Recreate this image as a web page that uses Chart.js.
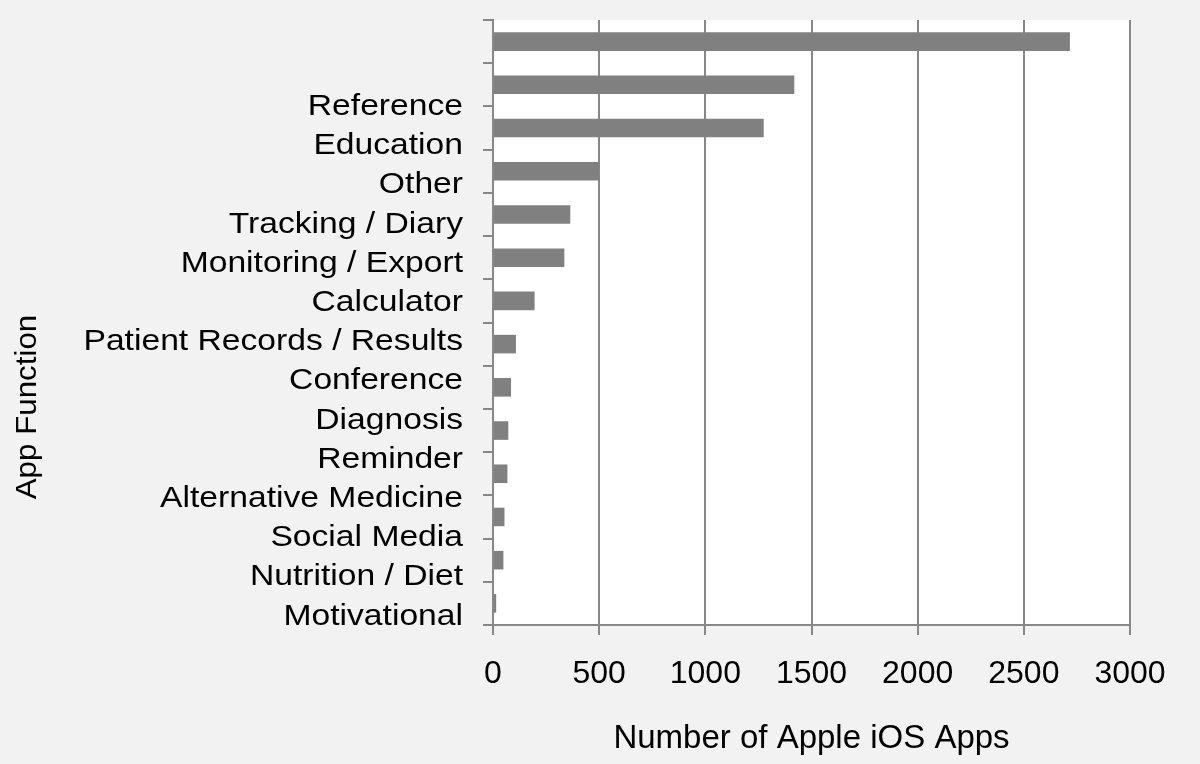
<!DOCTYPE html>
<html>
<head>
<meta charset="utf-8">
<script src="https://cdn.jsdelivr.net/npm/chart.js@4/dist/chart.umd.min.js"></script>
<style>
  html, body { margin: 0; padding: 0; background: #f2f2f2; }
  #wrap { width: 1200px; height: 764px; }
</style>
</head>
<body>
<div id="wrap"><canvas id="chart"></canvas></div>
<script>
// App functions, top to bottom
const categories = [
    'Reference', 'Education', 'Other', 'Tracking / Diary', 'Monitoring / Export',
    'Calculator', 'Patient Records / Results', 'Conference', 'Diagnosis', 'Reminder',
    'Alternative Medicine', 'Social Media', 'Nutrition / Diet', 'Motivational'
];
const appCounts = [2717, 1419, 1275, 500, 364, 336, 196, 108, 85, 72, 68, 54, 49, 15];
const xTicks = [0, 500, 1000, 1500, 2000, 2500, 3000];

const xTitle = 'Number of Apple iOS Apps';
const yTitle = 'App Function';

const GRAY = '#888888';
const FONT = '"Liberation Sans", Arial, sans-serif';

// white plot area on the gray page
const plotBg = {
    id: 'plotBg',
    beforeDraw(chart) {
        const { ctx, chartArea: a } = chart;
        ctx.save();
        ctx.fillStyle = '#ffffff';
        ctx.fillRect(a.left, a.top, a.right - a.left, a.bottom - a.top);
        ctx.restore();
    }
};

// category labels + y title, drawn a bit stretched like the original
const sideText = {
    id: 'sideText',
    afterDraw(chart) {
        const { ctx, chartArea: a } = chart;
        const labels = chart.data.labels;
        const first = a.top + 87, step = 39.2;
        ctx.save();
        ctx.fillStyle = '#000';
        ctx.font = '29px ' + FONT;
        ctx.textAlign = 'right';
        ctx.textBaseline = 'middle';
        labels.forEach((lab, i) => {
            ctx.save();
            ctx.translate(a.left - 30, first + i * step);
            ctx.scale(1.16, 1);
            ctx.fillText(lab, 0, 0);
            ctx.restore();
        });
        ctx.translate(28, 407);
        ctx.rotate(-Math.PI / 2);
        ctx.scale(1.08, 1);
        ctx.textAlign = 'center';
        ctx.fillText(yTitle, 0, 0);
        ctx.restore();
    }
};

new Chart(document.getElementById('chart'), {
    type: 'bar',
    data: {
        labels: categories,
        datasets: [{
            data: appCounts,
            backgroundColor: '#808080',
            borderWidth: 0,
            barPercentage: 0.43,
            categoryPercentage: 1
        }]
    },
    options: {
        indexAxis: 'y',
        responsive: true,
        maintainAspectRatio: false,
        animation: false,
        layout: { padding: { top: 20, right: 70, bottom: 5, left: 0 } },
        plugins: {
            legend: { display: false },
            tooltip: { enabled: false }
        },
        scales: {
            x: {
                type: 'linear',
                min: 0,
                max: 3000,
                afterBuildTicks(scale) {
                    scale.ticks = xTicks.map(v => ({ value: v }));
                },
                grid: { color: GRAY, lineWidth: 2, tickLength: 10, tickColor: GRAY },
                border: { color: GRAY, width: 2 },
                ticks: {
                    color: '#000',
                    font: { family: FONT, size: 32 },
                    padding: 20,
                    callback: v => String(v)
                },
                title: {
                    display: true,
                    text: xTitle,
                    color: '#000',
                    font: { family: FONT, size: 33 },
                    padding: { top: 6, bottom: 0 }
                }
            },
            y: {
                type: 'category',
                offset: true,
                grid: {
                    offset: true,
                    drawOnChartArea: false,
                    drawTicks: true,
                    tickLength: 10,
                    color: GRAY,
                    lineWidth: 2
                },
                border: { color: GRAY, width: 2 },
                ticks: { display: false },
                afterFit(scale) { scale.width = 493; }
            }
        }
    },
    plugins: [plotBg, sideText]
});
</script>
</body>
</html>
